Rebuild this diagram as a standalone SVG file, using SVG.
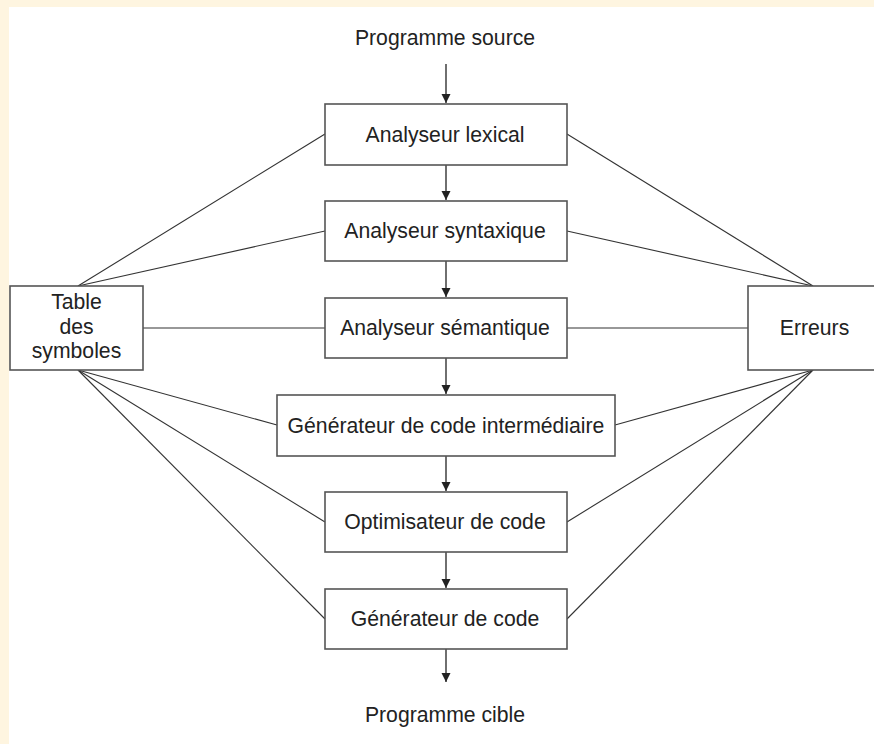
<svg xmlns="http://www.w3.org/2000/svg" width="874" height="744" viewBox="0 0 874 744">
<defs>
<marker id="arr" markerUnits="userSpaceOnUse" markerWidth="10" markerHeight="10" refX="9" refY="4.5" orient="auto">
<path d="M0,0 L9,4.5 L0,9 z" fill="#222"/>
</marker>
<style>
.box{fill:#fff;stroke:#555;stroke-width:1.6}
.t{font-family:"Liberation Sans",Arial,sans-serif;font-size:21.2px;fill:#222;text-anchor:middle}
.ln{stroke:#333;stroke-width:1.1;fill:none}
.ar{stroke:#333;stroke-width:1.4;fill:none;marker-end:url(#arr)}
</style>
</defs>
<rect x="0" y="0" width="874" height="744" fill="#fef5e0"/>
<rect x="9" y="7" width="865" height="737" fill="#fff"/>
<g id="connectors">
<line class="ar" x1="446" y1="64" x2="446" y2="103"/>
<line class="ar" x1="446" y1="165" x2="446" y2="200"/>
<line class="ar" x1="446" y1="261" x2="446" y2="297"/>
<line class="ar" x1="446" y1="358" x2="446" y2="394"/>
<line class="ar" x1="446" y1="456" x2="446" y2="491"/>
<line class="ar" x1="446" y1="552" x2="446" y2="588"/>
<line class="ar" x1="446" y1="649" x2="446" y2="682"/>
<line class="ln" x1="325" y1="134" x2="78" y2="286"/>
<line class="ln" x1="325" y1="231" x2="78" y2="286"/>
<line class="ln" x1="143" y1="328" x2="325" y2="328"/>
<line class="ln" x1="277" y1="425" x2="78" y2="370"/>
<line class="ln" x1="325" y1="522" x2="78" y2="370"/>
<line class="ln" x1="325" y1="619" x2="78" y2="370"/>
<line class="ln" x1="567" y1="134" x2="813" y2="286"/>
<line class="ln" x1="567" y1="231" x2="813" y2="286"/>
<line class="ln" x1="567" y1="328" x2="748" y2="328"/>
<line class="ln" x1="615" y1="425" x2="813" y2="370"/>
<line class="ln" x1="567" y1="522" x2="813" y2="370"/>
<line class="ln" x1="567" y1="619" x2="813" y2="370"/>
</g>
<g id="src"><text class="t" x="445" y="45">Programme source</text></g>
<g id="lexical"><rect class="box" x="325" y="104" width="242" height="61"/><text class="t" x="445" y="142">Analyseur lexical</text></g>
<g id="syntaxique"><rect class="box" x="325" y="201" width="242" height="60"/><text class="t" x="445" y="238">Analyseur syntaxique</text></g>
<g id="semantique"><rect class="box" x="325" y="298" width="242" height="60"/><text class="t" x="445" y="335">Analyseur sémantique</text></g>
<g id="intermediaire"><rect class="box" x="277" y="395" width="338" height="61"/><text class="t" x="446" y="433">Générateur de code intermédiaire</text></g>
<g id="optimisateur"><rect class="box" x="325" y="492" width="242" height="60"/><text class="t" x="445" y="529">Optimisateur de code</text></g>
<g id="generateur"><rect class="box" x="325" y="589" width="242" height="60"/><text class="t" x="445" y="626">Générateur de code</text></g>
<g id="cible"><text class="t" x="445" y="722">Programme cible</text></g>
<g id="table"><rect class="box" x="10" y="286" width="133" height="84"/><text class="t" x="76.5" y="309">Table</text><text class="t" x="76.5" y="334">des</text><text class="t" x="76.5" y="358">symboles</text></g>
<g id="erreurs"><rect class="box" x="748" y="286" width="133" height="84"/><text class="t" x="814.5" y="335">Erreurs</text></g>
</svg>
